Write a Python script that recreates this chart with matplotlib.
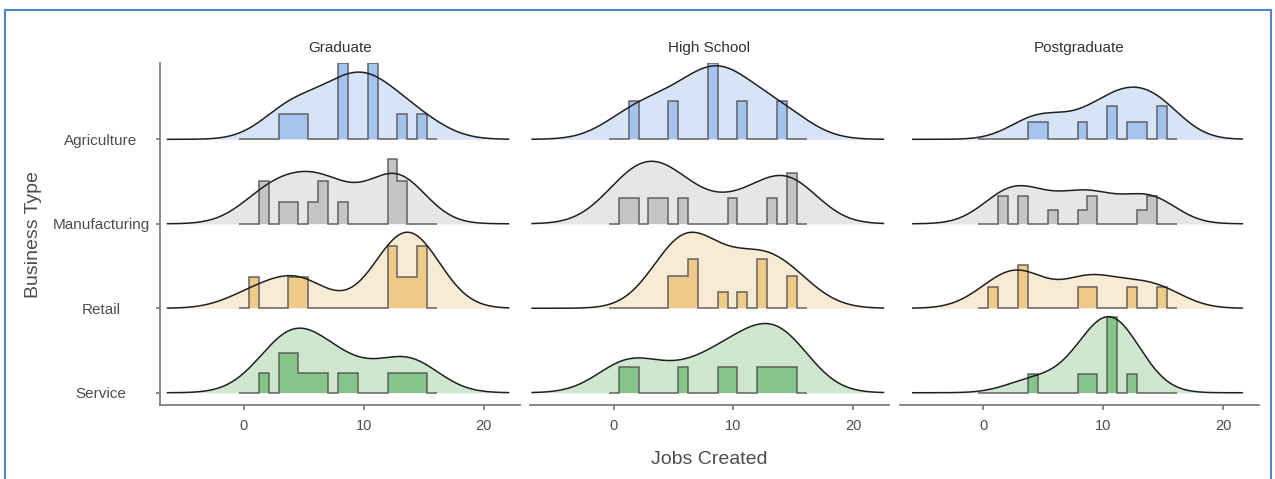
import numpy as np
import matplotlib
matplotlib.use("Agg")
import matplotlib.pyplot as plt
from matplotlib.lines import Line2D

# ---------------- data ----------------
panels = ["Graduate", "High School", "Postgraduate"]
business_types = ["Agriculture", "Manufacturing", "Retail", "Service"]  # top -> bottom

# histogram bins (20 bins incl. one empty pad bin at each end)
bin_start = -0.413
bin_width = 0.827
n_bins = 20

# counts per bin, rows = Agriculture, Manufacturing, Retail, Service
graduate_counts = [
    [0, 0, 0, 0, 1, 1, 1, 0, 0, 0, 3, 0, 0, 3, 0, 0, 1, 0, 1, 0],
    [0, 0, 2, 0, 1, 1, 0, 1, 2, 0, 1, 0, 0, 0, 0, 3, 2, 0, 0, 0],
    [0, 1, 0, 0, 0, 1, 1, 0, 0, 0, 0, 0, 0, 0, 0, 2, 1, 1, 2, 0],
    [0, 0, 1, 0, 2, 2, 1, 1, 1, 0, 1, 1, 0, 0, 0, 1, 1, 1, 1, 0],
]
highschool_counts = [
    [0, 0, 1, 0, 0, 0, 1, 0, 0, 0, 2, 0, 0, 1, 0, 0, 0, 1, 0, 0],
    [0, 1, 1, 0, 1, 1, 0, 1, 0, 0, 0, 0, 1, 0, 0, 0, 1, 0, 2, 0],
    [0, 0, 0, 0, 0, 0, 2, 2, 3, 0, 0, 1, 0, 1, 0, 3, 0, 0, 2, 0],
    [0, 1, 1, 0, 0, 0, 0, 1, 0, 0, 0, 1, 1, 0, 0, 1, 1, 1, 1, 0],
]
postgraduate_counts = [
    [0, 0, 0, 0, 0, 1, 1, 0, 0, 0, 1, 0, 0, 2, 0, 1, 1, 0, 2, 0],
    [0, 0, 2, 0, 2, 0, 0, 1, 0, 0, 1, 2, 0, 0, 0, 0, 1, 2, 0, 0],
    [0, 1, 0, 0, 2, 0, 0, 0, 0, 0, 1, 1, 0, 0, 0, 1, 0, 0, 1, 0],
    [0, 0, 0, 0, 0, 1, 0, 0, 0, 0, 1, 1, 0, 4, 0, 1, 0, 0, 0, 0],
]
panel_counts = [graduate_counts, highschool_counts, postgraduate_counts]
# joint KDE bandwidth per panel
panel_bandwidth = [2.4, 2.55, 2.24]

x_ticks = [0, 10, 20]
x_label = "Jobs Created"
y_label = "Business Type"

# ---------------- style ----------------
density_fill = ["#d7e4f7", "#e6e6e6", "#f9ead3", "#cfe7cf"]
hist_fill = ["#a4c3ef", "#c5c5c5", "#f0ca88", "#86c58a"]
scale = 0.9
text_col = "#4d4d4d"
axis_col = "#7f7f7f"

W, H = 1275, 479
fig = plt.figure(figsize=(W / 100, H / 100), dpi=100)
fig.patch.set_facecolor("white")
plt.rcParams["font.family"] = ["Liberation Sans", "DejaVu Sans"]

panel_px = [(160, 519.5), (530, 889), (899.5, 1259)]
top_px, bot_px = 63.3, 405

edges = bin_start + bin_width * np.arange(n_bins + 1)
centers = 0.5 * (edges[:-1] + edges[1:])
n_rows = len(business_types)
y_pos = {bt: n_rows - i for i, bt in enumerate(business_types)}  # Agriculture=4 ... Service=1

axes = []
for p, name in enumerate(panels):
    x0, x1 = panel_px[p]
    ax = fig.add_axes([x0 / W, 1 - bot_px / H, (x1 - x0) / W, (bot_px - top_px) / H])
    axes.append(ax)
    counts = np.array(panel_counts[p], dtype=float)
    bw = panel_bandwidth[p]

    # histogram densities
    hist_d = counts / (counts.sum(axis=1, keepdims=True) * bin_width)
    hist_scale = scale / hist_d.max()

    # KDE per row
    obs_rows = [np.repeat(centers, counts[r].astype(int)) for r in range(n_rows)]
    all_obs = np.concatenate(obs_rows)
    xg = np.linspace(all_obs.min() - 3 * bw, all_obs.max() + 3 * bw, 600)
    dens = []
    for obs in obs_rows:
        z = (xg[:, None] - obs[None, :]) / bw
        d = np.exp(-0.5 * z ** 2).sum(axis=1) / (len(obs) * bw * np.sqrt(2 * np.pi))
        dens.append(d)
    dens = np.array(dens)
    dens_scale = scale / dens.max()

    for r, bt in enumerate(business_types):
        base = y_pos[bt]
        dy = base + dens[r] * dens_scale
        ax.fill_between(xg, base, dy, color=density_fill[r], lw=0, zorder=1 + r * 0.01)
        hv = base + hist_d[r] * hist_scale
        ax.stairs(hv, edges, baseline=base, fill=True, color=hist_fill[r], lw=0, zorder=2)
        ax.stairs(hv, edges, baseline=base, fill=False, edgecolor="#555555", lw=1.1, zorder=3, alpha=0.9)
        ax.plot(xg, dy, color="#1f1f1f", lw=1.1, zorder=4)

    ax.set_xlim(-7, 23)
    ax.set_ylim(0.855, 4.9)
    ax.set_xticks(x_ticks)
    ax.set_xticklabels([str(t) for t in x_ticks])
    for s in ["top", "right"]:
        ax.spines[s].set_visible(False)
    ax.spines["bottom"].set_color(axis_col)
    ax.spines["bottom"].set_linewidth(1.3)
    ax.tick_params(axis="x", colors=axis_col, labelcolor=text_col, length=3.5, width=1.3,
                   labelsize=10.5, pad=6.5)
    if p == 0:
        ax.spines["left"].set_color(axis_col)
        ax.spines["left"].set_linewidth(1.3)
        ax.set_yticks([y_pos[bt] for bt in business_types])
        ax.set_yticklabels(business_types, ha="center")
        ax.tick_params(axis="y", colors=axis_col, labelcolor=text_col, length=3, width=1.3,
                       labelsize=11, pad=(160 - 101) * 0.72 - 3)
    else:
        ax.spines["left"].set_visible(False)
        ax.set_yticks([])
    ax.set_title(name, fontsize=11, color="#333333", pad=8)

fig.text(((panel_px[0][0] + panel_px[2][1]) / 2) / W, 1 - 459 / H, x_label,
         ha="center", va="center", fontsize=14, color=text_col)
fig.text(34 / W, 1 - ((top_px + bot_px) / 2) / H, y_label, rotation=90,
         ha="center", va="center", fontsize=14, color=text_col)

# screenshot frame
frame_col = "#4f86c6"
fig.add_artist(Line2D([5 / W, 5 / W], [0, 1 - 10 / H], transform=fig.transFigure, color=frame_col, lw=1.5))
fig.add_artist(Line2D([5 / W, 1271 / W], [1 - 10 / H, 1 - 10 / H], transform=fig.transFigure, color=frame_col, lw=1.5))
fig.add_artist(Line2D([1271 / W, 1271 / W], [0, 1 - 10 / H], transform=fig.transFigure, color=frame_col, lw=1.5))

fig.savefig("out.png", dpi=100)
